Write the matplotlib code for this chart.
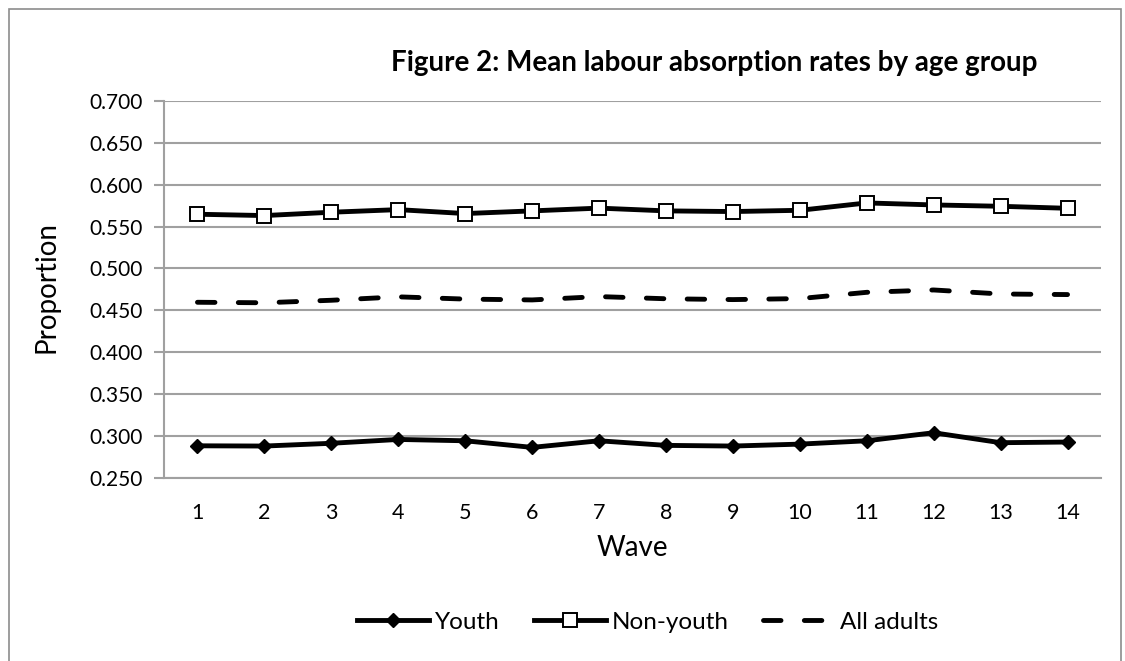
import matplotlib
matplotlib.use("Agg")
import matplotlib.pyplot as plt
from matplotlib.patches import Rectangle

waves = list(range(1, 15))
youth = [0.288, 0.2877, 0.291, 0.2956, 0.294, 0.2861, 0.294, 0.2885, 0.2877, 0.290, 0.294, 0.3036, 0.2917, 0.2925]
non_youth = [0.5647, 0.5631, 0.5671, 0.5702, 0.5655, 0.5687, 0.572, 0.5687, 0.5679, 0.5694, 0.5782, 0.5758, 0.5742, 0.5718]
all_adults = [0.4595, 0.4589, 0.4619, 0.4660, 0.4633, 0.4623, 0.4663, 0.4637, 0.4627, 0.4639, 0.4714, 0.4742, 0.4694, 0.4687]
yticks = [0.25, 0.30, 0.35, 0.40, 0.45, 0.50, 0.55, 0.60, 0.65, 0.70]

FONT = "Lato"
W, H = 1125, 661
fig = plt.figure(figsize=(W / 100, H / 100), dpi=100)
fig.patch.set_facecolor("white")

# chart border
fig.patches.append(Rectangle((9 / W, -0.05), (1121 - 9) / W, 1 - 9 / H + 0.05,
                             transform=fig.transFigure, fill=False,
                             edgecolor="#8c8c8c", linewidth=1.2))

left, right, top, bottom = 164, 1101, 101, 477.6
ax = fig.add_axes([left / W, 1 - bottom / H, (right - left) / W, (bottom - top) / H])

grid_c = "#a0a0a0"
LW = 3.5
ax.plot(waves, youth, color="black", linewidth=LW, marker="D", markersize=7.5,
        markerfacecolor="black", markeredgecolor="black", label="Youth", zorder=4)
ax.plot(waves, non_youth, color="black", linewidth=LW, marker="s", markersize=9.5,
        markerfacecolor="white", markeredgecolor="black", markeredgewidth=1.4,
        label="Non-youth", zorder=4)
ax.plot(waves, all_adults, color="black", linewidth=LW, linestyle=(0, (3.6, 4.8)),
        dash_capstyle="round", label="All adults", zorder=3)

ax.set_xlim(0.5, 14.5)
ax.set_ylim(0.25, 0.70)
ax.set_yticks(yticks)
ax.set_yticklabels([f"{v:.3f}" for v in yticks])
ax.set_xticks(waves)
ax.set_xticklabels([str(w) for w in waves])
ax.yaxis.grid(True, color=grid_c, linewidth=1.5)
ax.set_axisbelow(True)
for s in ["top", "right"]:
    ax.spines[s].set_visible(False)
for s in ["left", "bottom"]:
    ax.spines[s].set_color(grid_c)
    ax.spines[s].set_linewidth(1.5)
ax.tick_params(axis="y", length=7, width=1.5, color=grid_c, pad=8, labelsize=15)
ax.tick_params(axis="x", length=0, pad=18, labelsize=15.5)
for lab in ax.get_xticklabels() + ax.get_yticklabels():
    lab.set_fontfamily(FONT)

fig.text(47 / W, 1 - 287 / H, "Proportion", rotation=90, ha="center", va="center",
         fontsize=20, family=FONT)
fig.text(632 / W, 1 - 548 / H, "Wave", ha="center", va="center", fontsize=20, family=FONT)
fig.text(714 / W, 1 - 63 / H, "Figure 2: Mean labour absorption rates by age group",
         ha="center", va="center", fontsize=20, fontweight="bold", family=FONT)

leg = fig.legend(loc="center", bbox_to_anchor=(648 / W, 1 - 622 / H), ncol=3,
                 frameon=False, prop={"family": FONT, "size": 17.5},
                 handlelength=2.95, handletextpad=0.25, columnspacing=1.4,
                 borderpad=0, borderaxespad=0)

fig.savefig("out.png", dpi=100)
